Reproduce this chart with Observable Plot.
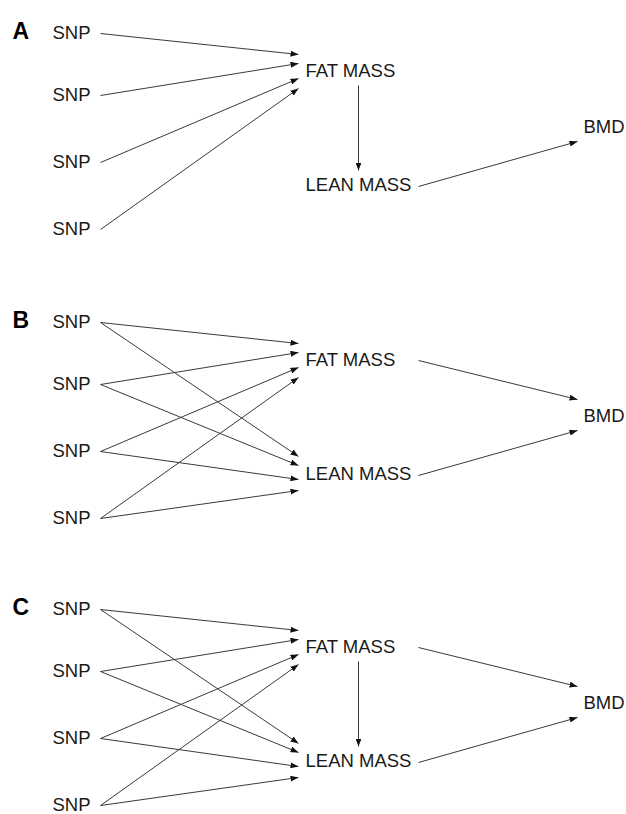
<!DOCTYPE html>
<html>
<head>
<meta charset="utf-8">
<script src="https://cdn.jsdelivr.net/npm/d3@7"></script>
<script src="https://cdn.jsdelivr.net/npm/@observablehq/plot@0.6"></script>
<style>
  html, body { margin: 0; padding: 0; background: #fff; }
  #chart svg { display: block; }
</style>
</head>
<body>
<div id="chart"></div>
<script>
// ---- data ----
const panels = ["A", "B", "C"];
const snpNodes = ["SNP1", "SNP2", "SNP3", "SNP4"];
const snpLabel = "SNP";
const traitNodes = ["FAT", "LEAN", "BMD"];
const traitLabels = ["FAT MASS", "LEAN MASS", "BMD"];
const edgesA = [
  ["SNP1", "FAT"], ["SNP2", "FAT"], ["SNP3", "FAT"], ["SNP4", "FAT"],
  ["FAT", "LEAN"], ["LEAN", "BMD"]
];
const edgesB = [
  ["SNP1", "FAT"], ["SNP2", "FAT"], ["SNP3", "FAT"], ["SNP4", "FAT"],
  ["SNP1", "LEAN"], ["SNP2", "LEAN"], ["SNP3", "LEAN"], ["SNP4", "LEAN"],
  ["FAT", "BMD"], ["LEAN", "BMD"]
];
const edgesC = [
  ["SNP1", "FAT"], ["SNP2", "FAT"], ["SNP3", "FAT"], ["SNP4", "FAT"],
  ["SNP1", "LEAN"], ["SNP2", "LEAN"], ["SNP3", "LEAN"], ["SNP4", "LEAN"],
  ["FAT", "LEAN"], ["FAT", "BMD"], ["LEAN", "BMD"]
];
const panelEdges = [edgesA, edgesB, edgesC];

// ---- layout (diagram geometry, in plot units) ----
const layout = {
  panelTop: [0, 289, 576],
  snpY: [33, 95, 162, 229],
  snpTextX: 52,
  snpOutX: 100,
  traitTextX: {FAT: 305, LEAN: 305, BMD: 583},
  traitY: {FAT: 71, LEAN: 185, BMD: 127},
  inX: 298,
  headY: {FAT: [54, 63, 78, 88], LEAN: [167, 176, 190, 201]},
  traitOutX: 418,
  bmdInX: 577,
  bmdInY: {FAT: 110, LEAN: 141},
  verticalX: 358,
  verticalY: [85, 170],
  letterX: 12
};

// ---- build tables ----
const texts = [];
const links = [];
panels.forEach((p, pi) => {
  const top = layout.panelTop[pi];
  texts.push({x: layout.letterX, y: top + layout.snpY[0] - 2, label: p, bold: true});
  snpNodes.forEach((s, i) => texts.push({x: layout.snpTextX, y: top + layout.snpY[i], label: snpLabel}));
  const used = new Set(panelEdges[pi].flat());
  traitNodes.forEach((t, i) => {
    if (used.has(t)) texts.push({x: layout.traitTextX[t], y: top + layout.traitY[t], label: traitLabels[i]});
  });
  panelEdges[pi].forEach(([from, to]) => {
    let x1, y1, x2, y2;
    if (from.startsWith("SNP")) {
      const i = snpNodes.indexOf(from);
      x1 = layout.snpOutX; y1 = layout.snpY[i];
      x2 = layout.inX; y2 = layout.headY[to][i];
    } else if (to === "BMD") {
      x1 = layout.traitOutX; y1 = layout.traitY[from] + (from === "LEAN" ? 1 : 0);
      x2 = layout.bmdInX; y2 = layout.bmdInY[from];
    } else {
      x1 = x2 = layout.verticalX; y1 = layout.verticalY[0]; y2 = layout.verticalY[1];
    }
    links.push({x1, y1: top + y1, x2, y2: top + y2});
  });
});

// filled triangular arrowhead marker
function arrowHead(color, context) {
  const doc = (context && context.document) || document;
  const ns = "http://www.w3.org/2000/svg";
  const m = doc.createElementNS(ns, "marker");
  m.setAttribute("viewBox", "-8 -3 8 6");
  m.setAttribute("markerWidth", 8);
  m.setAttribute("markerHeight", 6);
  m.setAttribute("markerUnits", "userSpaceOnUse");
  m.setAttribute("orient", "auto");
  m.setAttribute("refX", 0);
  m.setAttribute("refY", 0);
  const path = doc.createElementNS(ns, "path");
  path.setAttribute("d", "M-8,-3L0,0L-8,3Z");
  path.setAttribute("fill", "#111");
  path.setAttribute("stroke", "none");
  m.appendChild(path);
  return m;
}

const W = 626, H = 814;
const chart = Plot.plot({
  width: W,
  height: H,
  margin: 0,
  x: {domain: [0, W], range: [0, W], axis: null},
  y: {domain: [0, H], range: [0, H], axis: null},
  style: {fontFamily: "'Liberation Sans', Arial, Helvetica, sans-serif", background: "#fff"},
  marks: [
    Plot.link(links, {
      x1: "x1", y1: "y1", x2: "x2", y2: "y2",
      stroke: "#3a3a3a", strokeWidth: 1,
      markerEnd: arrowHead
    }),
    Plot.text(texts.filter(d => !d.bold), {
      x: "x", y: "y", text: "label",
      textAnchor: "start", fontSize: 18.5, fill: "#1a1a1a"
    }),
    Plot.text(texts.filter(d => d.bold), {
      x: "x", y: "y", text: "label",
      textAnchor: "start", fontSize: 23, fontWeight: "bold", fill: "#000"
    })
  ]
});
document.getElementById("chart").appendChild(chart);
</script>
</body>
</html>
